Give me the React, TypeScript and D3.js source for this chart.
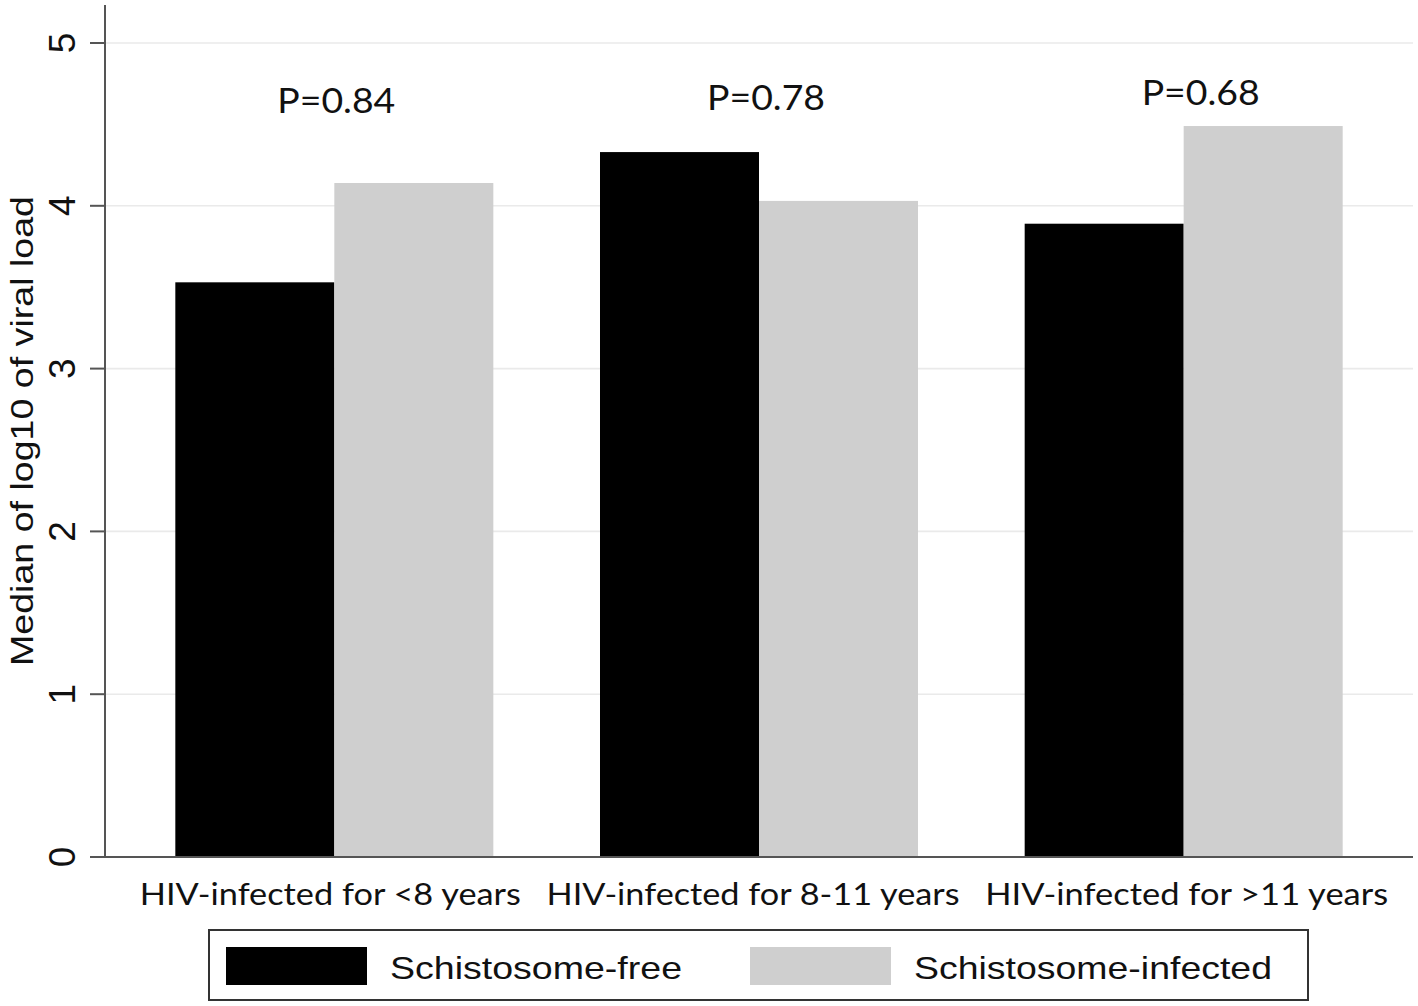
import React from "react";
import * as d3 from "d3";

const categories = [
  "HIV-infected for <8 years",
  "HIV-infected for 8-11 years",
  "HIV-infected for >11 years",
];
const seriesNames = ["Schistosome-free", "Schistosome-infected"];
const schistoFree = [3.53, 4.33, 3.89];
const schistoInfected = [4.14, 4.03, 4.49];
const pLabels = ["P=0.84", "P=0.78", "P=0.68"];
const pLabelY = [4.57, 4.59, 4.62];
const yTicks = [0, 1, 2, 3, 4, 5];
const seriesColors = ["#000000", "#cfcfcf"];

// annotation nudges (px)
const pLabelDx = [2, 7, 17];
const catLabelDx = [-4, -6, 3];
const catLabelLen = [381, 413, 403];

const W = 1418;
const H = 1006;

export default function App() {
  const x0 = 105;
  const x1 = 1413;
  const yScale = d3.scaleLinear().domain([0, 5]).range([857, 43]);
  const xCenter = d3.scalePoint<string>().domain(categories).range([x0, x1]).padding(0.54);
  const barW = 159;
  const sub = d3.scaleBand<number>().domain([0, 1]).range([-barW, barW]).padding(0);
  const series = [schistoFree, schistoInfected];

  const catFont = "Lato, 'Open Sans', sans-serif";
  const arial = "'Liberation Sans', Arial, sans-serif";

  return (
    <svg width={W} height={H} viewBox={`0 0 ${W} ${H}`} style={{ display: "block", position: "absolute", left: 0, top: 0, background: "#fff" }}>
      <rect x={0} y={0} width={W} height={H} fill="#fff" />
      {yTicks.slice(1).map((t) => (
        <line key={"g" + t} x1={x0} x2={x1} y1={yScale(t)} y2={yScale(t)} stroke="#eaeaea" strokeWidth={1.6} />
      ))}
      {categories.map((c, i) =>
        series.map((s, j) => {
          const cx = xCenter(c)!;
          const y = yScale(s[i]);
          return (
            <rect
              key={c + j}
              x={cx + sub(j)!}
              y={y}
              width={sub.bandwidth()}
              height={yScale(0) - y}
              fill={seriesColors[j]}
            />
          );
        })
      )}
      <line x1={x0} x2={x0} y1={5} y2={yScale(0)} stroke="#555" strokeWidth={2} />
      <line x1={x0} x2={x1} y1={yScale(0)} y2={yScale(0)} stroke="#555" strokeWidth={2} />
      {yTicks.map((t) => (
        <g key={"t" + t}>
          <line x1={x0 - 15} x2={x0} y1={yScale(t)} y2={yScale(t)} stroke="#555" strokeWidth={2} />
          <text
            transform={`translate(75,${yScale(t)}) rotate(-90)`}
            textAnchor="middle"
            fontFamily={arial}
            fontSize={37}
            fill="#111"
          >
            {t}
          </text>
        </g>
      ))}
      <text
        transform={`translate(33,431) rotate(-90)`}
        textAnchor="middle"
        fontFamily={arial}
        fontSize={31}
        fill="#111"
        textLength={470}
        lengthAdjust="spacingAndGlyphs"
      >
        Median of log10 of viral load
      </text>
      {categories.map((c, i) => (
        <text
          key={"c" + c}
          x={xCenter(c)! + catLabelDx[i]}
          y={905}
          textAnchor="middle"
          fontFamily={catFont}
          fontSize={31}
          fill="#111"
          textLength={catLabelLen[i]}
          lengthAdjust="spacingAndGlyphs"
        >
          {c}
        </text>
      ))}
      {categories.map((c, i) => (
        <text
          key={"p" + c}
          x={xCenter(c)! + pLabelDx[i]}
          y={yScale(pLabelY[i])}
          textAnchor="middle"
          fontFamily={catFont}
          fontSize={35}
          fill="#111"
          textLength={118}
          lengthAdjust="spacingAndGlyphs"
        >
          {pLabels[i]}
        </text>
      ))}
      <rect x={209} y={930} width={1099} height={70} fill="#fff" stroke="#333" strokeWidth={2} />
      {seriesNames.map((n, j) => {
        const lx = j === 0 ? 226 : 750;
        return (
          <g key={"l" + n}>
            <rect x={lx} y={947} width={141} height={38} fill={seriesColors[j]} />
            <text
              x={lx + 164}
              y={979}
              fontFamily={arial}
              fontSize={32}
              fill="#111"
              textLength={j === 0 ? 292 : 358}
              lengthAdjust="spacingAndGlyphs"
            >
              {n}
            </text>
          </g>
        );
      })}
    </svg>
  );
}
